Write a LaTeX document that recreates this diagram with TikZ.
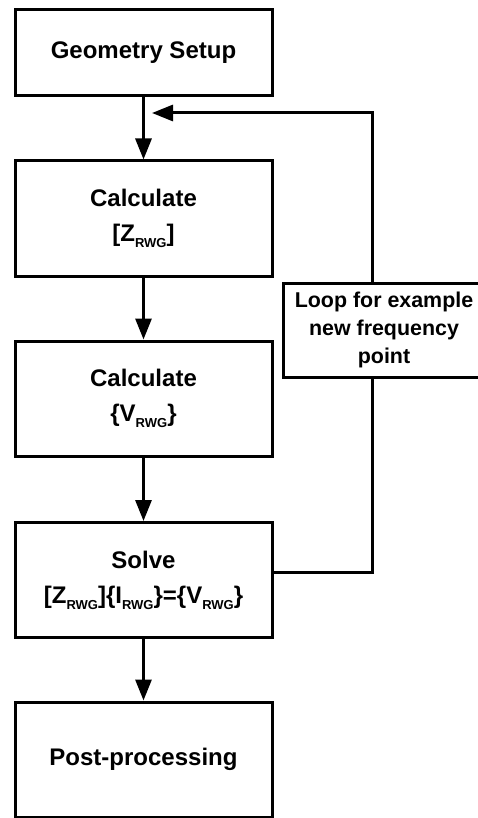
\documentclass[tikz,border=0pt]{standalone}
\usepackage{fontspec}
\setmainfont{Liberation Sans}
\usetikzlibrary{arrows.meta}
\newcommand{\rwg}{\raisebox{-3pt}{\fontsize{6.5}{7}\selectfont RWG}}
\tikzset{stepbox/.style={draw, line width=1.5pt, minimum width=128.5pt, minimum height=57.5pt,
   align=center, font=\bfseries\fontsize{12}{14}\selectfont},
 loopbox/.style={draw, line width=1.5pt, minimum width=101pt, minimum height=47pt,
   align=center, font=\bfseries\fontsize{10.7}{14}\selectfont},
 flow/.style={line width=1.5pt, -{Triangle[length=10.5pt, width=8pt]}},
 link/.style={line width=1.5pt},
 }

\begin{document}
\begin{tikzpicture}[x=0.5pt, y=-0.5pt]
        \useasboundingbox (0, 0) rectangle (477, 818);

        \node[stepbox, minimum height=43pt] (geometry) at (143.5, 53) {Geometry Setup};
        \node[stepbox] (calcz) at (143.5, 218.5) {Calculate\\[3.5pt] [Z\rwg]};
        \node[stepbox] (calcv) at (143.5, 398.5) {Calculate\\[3.5pt] \{V\rwg\}};
        \node[stepbox] (solve) at (143.5, 580) {Solve\\[3.5pt] [Z\rwg]\{I\rwg\}=\{V\rwg\}};
        \node[stepbox] (post) at (143.5, 759.5) {Post-processing};
        \foreach \a/\b in {geometry/calcz, calcz/calcv, calcv/solve, solve/post} {
            \draw[flow] (\a) -- (\b);
        }

        \node[loopbox] (loop) at (384, 330) {Loop for example\\new frequency\\point};
        \coordinate (back) at (152, 113);
        \draw[link] ([yshift=4pt]solve.east) -| ([xshift=-6pt]loop.south);
        \draw[flow] ([xshift=-6pt]loop.north) |- (back);
    \end{tikzpicture}
\end{document}
